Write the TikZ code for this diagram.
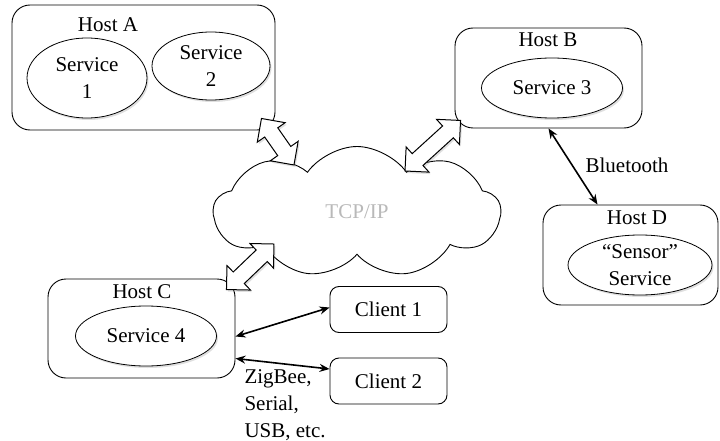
\documentclass[tikz,border=0pt]{standalone}
\usepackage{fontspec}
\setmainfont{Liberation Serif}
\usetikzlibrary{shapes.geometric,shapes.symbols,shapes.arrows,shadows,calc,arrows.meta}

\tikzset{
	host/.style={draw, rounded corners=18pt, line width=0.9pt, inner sep=0pt},
	client/.style={draw, rounded corners=9pt, line width=0.9pt, inner sep=0pt, minimum width=117pt, minimum height=46pt},
	service/.style={draw, ellipse, fill=white, line width=0.8pt, inner sep=0pt, align=center,
		drop shadow={opacity=0.25, shadow xshift=1.5pt, shadow yshift=-2pt}},
	fat/.style={double arrow, draw, fill=white, line width=1pt, inner xsep=0pt, inner ysep=7.5pt,
		double arrow head extend=9pt,
		drop shadow={opacity=0.25, shadow xshift=1.5pt, shadow yshift=-2pt}},
	link/.style={{Stealth[length=10pt,width=8pt]}-{Stealth[length=10pt,width=8pt]}, line width=1.6pt}
}

\newcommand{\fatlink}[2]{\path let \p1=($(#2)-(#1)$), \n1={veclen(\x1,\y1)} in (#1) -- (#2) node[fat, midway, sloped, minimum height=\n1] {};}

\begin{document}
\begin{tikzpicture}[x=1pt, y=-1pt, every node/.style={font=\fontsize{21}{27}\selectfont}]
		\useasboundingbox (0,0) rectangle (720,441);
		
		% network
		\node[cloud, draw, fill=white, cloud puffs=9, cloud puff arc=110, aspect=2.1, line width=0.9pt, minimum width=287pt, minimum height=131pt, inner sep=0pt, text=gray!55] (net) at (357,212) {TCP/IP};
		
		% hosts
		\node[host, minimum width=263pt, minimum height=125pt] (hostA) at (143.5,67.5) {};
		\node[host, minimum width=187pt, minimum height=100pt] (hostB) at (548.5,78) {};
		\node[host, minimum width=187pt, minimum height=99pt] (hostC) at (141.5,328.5) {};
		\node[host, minimum width=175pt, minimum height=100pt] (hostD) at (630.5,255) {};
		\node (labA) at (108,25) {Host A};
		\node (labB) at (548,40) {Host B};
		\node (labC) at (142,292) {Host C};
		\node (labD) at (637,218) {Host D};
		
		% services
		\node[service, minimum width=120pt, minimum height=80pt] (srv1) at (87,78) {Service\\1};
		\node[service, minimum width=118pt, minimum height=68pt] (srv2) at (211,66) {Service\\2};
		\node[service, minimum width=141pt, minimum height=60pt] (srv3) at (552,88) {Service 3};
		\node[service, minimum width=141pt, minimum height=60pt] (srv4) at (146,336) {Service 4};
		\node[service, minimum width=144pt, minimum height=60pt] (sensor) at (640,265) {``Sensor''\\Service};
		
		% clients
		\node[client] (client1) at (388.5,309.5) {Client 1};
		\node[client] (client2) at (388.5,381) {Client 2};
		
		% TCP/IP links
		\coordinate (tipA) at ([shift={(-14,-12)}]hostA.south east);
		\coordinate (endA) at ([shift={(-63,-47)}]net.center);
		\coordinate (tipB) at ([shift={(6,-8)}]hostB.south west);
		\coordinate (endB) at ([shift={(48,-41)}]net.center);
		\coordinate (tipC) at ([shift={(-9,11)}]hostC.north east);
		\coordinate (endC) at ([shift={(-83,32)}]net.center);
		\fatlink{tipA}{endA}
		\fatlink{endB}{tipB}
		\fatlink{tipC}{endC}
		
		% local links
		\draw[link] (hostB.south) -- ([xshift=-33pt]hostD.north);
		\node (bt) at (627,165) {Bluetooth};
		\draw[link] ([yshift=-8pt]hostC.east) -- ([yshift=2pt]client1.west);
		\draw[link] ([yshift=-30pt]hostC.east) -- ([yshift=12pt]client2.west);
		\node[anchor=west, align=left] (media) at (241,405) {ZigBee,\\Serial,\\USB, etc.};
		
\end{tikzpicture}
\end{document}
